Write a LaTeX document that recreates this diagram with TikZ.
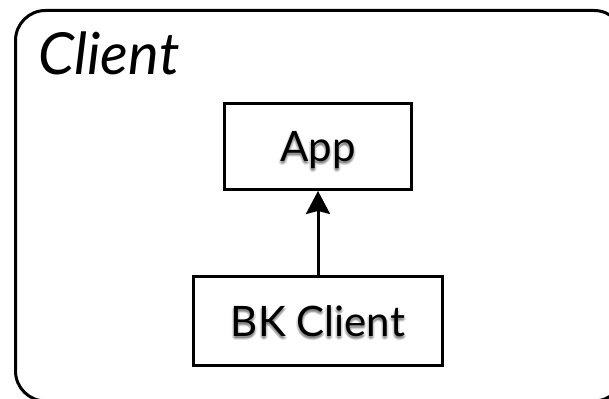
\documentclass[tikz,border=0pt]{standalone}
\usepackage{fontspec}
\setmainfont{Lato}
\usetikzlibrary{arrows.meta}
\begin{document}
\begin{tikzpicture}[x=1pt,y=1pt,
  compbox/.style={draw=black, line width=3pt, fill=none, inner sep=0pt,
    text height=30.5pt, text depth=0pt, font=\fontsize{42}{48}\selectfont},
  textshade/.style={inner sep=0pt, text=black, opacity=0.10,
    text height=30.5pt, text depth=0pt, font=\fontsize{42}{48}\selectfont},
  link/.style={line width=3pt, -{Stealth[length=23pt,width=24pt,inset=3pt]}}
]
\useasboundingbox (0,0) rectangle (609,398);
\clip (0,0) rectangle (609,398);
% outer container, running off the right and bottom edges
\draw[line width=3pt, rounded corners=30pt] (15.5,387.5) rectangle (624,-3);
\node[anchor=base west, inner sep=0pt,
      font=\fontsize{58}{64}\selectfont\itshape] (title) at (38,323) {Client};
% soft shadows under the component labels
\foreach \dx/\dy in {0/-2, 1/-3, -1/-3, 0/-4, 2/-2, -2/-2} {
  \node[textshade] (appshade) at (318+\dx,251.3+\dy) {App};
  \node[textshade] (bkshade) at (318+\dx,77+\dy) {BK Client};
}
\node[compbox, minimum width=187.5pt, minimum height=85.5pt] (app) at (318,251.3) {App};
\node[compbox, minimum width=249.5pt, minimum height=89pt] (bk) at (318,77) {BK Client};
\draw[link] (bk.north) -- (app.south);
\end{tikzpicture}
\end{document}
